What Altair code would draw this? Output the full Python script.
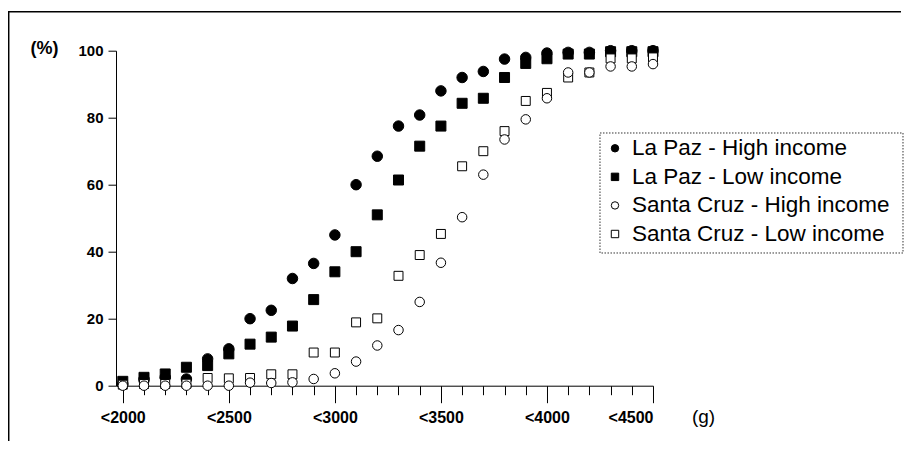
import altair as alt
import pandas as pd

# Birth-weight thresholds (g)
weights = [2000, 2100, 2200, 2300, 2400, 2500, 2600, 2700, 2800, 2900, 3000, 3100, 3200,
           3300, 3400, 3500, 3600, 3700, 3800, 3900, 4000, 4100, 4200, 4300, 4400, 4500]

lp_high = [0.5, 2.0, 2.5, 2.0, 8.0, 11.0, 20.0, 22.5, 32.0, 36.5, 45.0, 60.0, 68.5,
           77.5, 80.8, 88.0, 92.0, 93.8, 97.5, 98.0, 99.3, 99.5, 99.5, 100.0, 100.0, 100.0]
lp_low = [1.3, 2.5, 3.5, 5.5, 6.0, 9.5, 12.4, 14.5, 17.8, 25.7, 34.0, 40.0, 51.0,
          61.4, 71.5, 77.5, 84.3, 85.8, 92.0, 96.2, 97.6, 99.0, 99.0, 99.7, 99.7, 99.7]
sc_high = [0.0, 0.0, 0.0, 0.0, 0.0, 0.0, 0.9, 0.8, 1.0, 2.0, 3.7, 7.2, 12.0,
           16.6, 25.0, 36.7, 50.3, 63.0, 73.5, 79.5, 85.8, 93.5, 93.5, 95.3, 95.3, 96.0]
sc_low = [0.3, 0.5, 0.5, 0.6, 2.3, 2.2, 2.3, 3.4, 3.4, 9.9, 9.9, 18.9, 20.1,
          32.8, 39.0, 45.3, 65.5, 70.0, 76.0, 85.0, 87.4, 92.0, 93.5, 97.7, 97.7, 98.0]

series_names = ["La Paz - High income", "La Paz - Low income",
                "Santa Cruz - High income", "Santa Cruz - Low income"]
series_shapes = ["circle", "square", "circle", "square"]
series_fills = ["black", "black", "white", "white"]
series_sizes = [110, 80, 95, 55]

x_ticks = [2000, 2100, 2200, 2300, 2400, 2500, 2600, 2700, 2800, 2900, 3000, 3100, 3200,
           3300, 3400, 3500, 3600, 3700, 3800, 3900, 4000, 4100, 4200, 4300, 4400, 4500]
y_ticks = [0, 20, 40, 60, 80, 100]

# drawing order: filled first, open markers on top
draw_order = [(series_names[1], lp_low), (series_names[0], lp_high),
              (series_names[3], sc_low), (series_names[2], sc_high)]
rows = []
for name, vals in draw_order:
    for w, v in zip(weights, vals):
        rows.append({"weight": w, "pct": v, "series": name})
df = pd.DataFrame(rows)

legend_df = pd.DataFrame({"series": series_names, "row": [0, 1, 2, 3]})

FONT = "Liberation Sans"

shape_scale = alt.Scale(domain=series_names, range=series_shapes)
fill_scale = alt.Scale(domain=series_names, range=series_fills)

x_enc = alt.X(
    "weight:Q",
    scale=alt.Scale(domain=[1968, 4500], nice=False, zero=False),
    axis=alt.Axis(
        values=x_ticks,
        labelExpr="datum.value % 500 === 0 ? '<' + datum.value : ''",
        labelOverlap=False,
        labelFont=FONT, labelFontSize=16, labelFontWeight="bold", labelColor="black",
        tickSize={"condition": {"test": "datum.value % 500 === 0", "value": 17}, "value": 9},
        tickColor="black", tickWidth=1,
        domainColor="black", domainWidth=1,
        labelPadding=7,
        grid=False,
        title="(g)", titleFont=FONT, titleFontSize=19, titleFontWeight="normal",
        titleColor="black", titleAngle=0, titleAlign="center", titleBaseline="alphabetic",
        titleX=587, titleY=37,
    ),
)

y_enc = alt.Y(
    "pct:Q",
    scale=alt.Scale(domain=[0, 100], nice=False),
    axis=alt.Axis(
        values=y_ticks,
        labelFont=FONT, labelFontSize=15, labelFontWeight="bold", labelColor="black",
        tickSize=8, tickColor="black", tickWidth=1,
        domainColor="black", domainWidth=1,
        labelPadding=5, grid=False,
        title="(%)", titleFont=FONT, titleFontSize=18, titleFontWeight="bold",
        titleColor="black", titleAngle=0, titleAlign="center", titleBaseline="alphabetic",
        titleX=-72, titleY=2.5,
    ),
)

points = alt.Chart(df).mark_point(filled=True, stroke="black", strokeWidth=1, opacity=1).encode(
    x=x_enc,
    y=y_enc,
    shape=alt.Shape("series:N", scale=shape_scale, legend=None),
    fill=alt.Fill("series:N", scale=fill_scale, legend=None),
    size=alt.Size("series:N", scale=alt.Scale(domain=series_names, range=series_sizes),
                  legend=None),
)

# legend box, symbols and labels
one_row = alt.Data(values=[{"k": 0}])
legend_box = alt.Chart(one_row).mark_rect(
    fill="white", stroke="#333", strokeWidth=1, strokeDash=[1.5, 1.5]
).encode(x=alt.value(484), x2=alt.value(787), y=alt.value(82.3), y2=alt.value(202.3))

row_y = alt.Y("row:O", axis=None,
              scale=alt.Scale(type="point", domain=[0, 1, 2, 3], range=[97.6, 183.3], padding=0))

legend_symbols = alt.Chart(legend_df).mark_point(
    filled=True, stroke="black", strokeWidth=1, opacity=1, size=55
).encode(
    x=alt.value(499),
    y=row_y,
    shape=alt.Shape("series:N", scale=shape_scale, legend=None),
    fill=alt.Fill("series:N", scale=fill_scale, legend=None),
)

legend_labels = alt.Chart(legend_df).mark_text(
    align="left", baseline="middle", font=FONT, fontSize=22.5, color="black"
).encode(
    x=alt.value(516),
    y=row_y,
    text="series:N",
)

top_line = alt.Chart(one_row).mark_rule(color="black", strokeWidth=1.5).encode(
    x=alt.value(-108), x2=alt.value(785), y=alt.value(-39)
)
left_line = alt.Chart(one_row).mark_rule(color="black", strokeWidth=1.5).encode(
    x=alt.value(-107.3), y=alt.value(-39), y2=alt.value(400)
)

chart = alt.layer(
    points, top_line, left_line, legend_box, legend_symbols, legend_labels
).resolve_scale(y="independent").properties(
    width=537, height=335,
    background="white",
    autosize=alt.AutoSizeParams(type="none"),
    padding={"left": 108, "top": 42.7, "right": 256, "bottom": 55},
).configure_view(strokeWidth=0, stroke="transparent")

chart.save("out.html", embed_options={"renderer": "svg", "actions": False})
